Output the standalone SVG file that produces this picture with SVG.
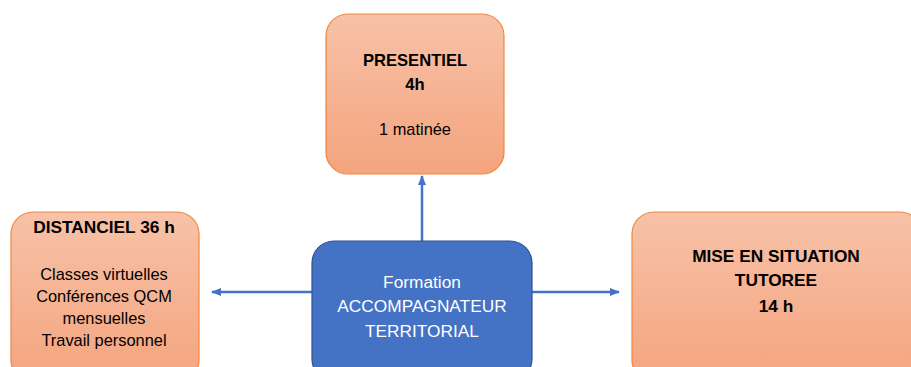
<svg xmlns="http://www.w3.org/2000/svg" width="911" height="367" viewBox="0 0 911 367">
<defs>
<linearGradient id="og" x1="0" y1="0" x2="0" y2="1">
<stop offset="0" stop-color="#F7C2A8"/>
<stop offset="1" stop-color="#F4A47E"/>
</linearGradient>
<marker id="ah" viewBox="0 0 10 10" refX="9" refY="5" markerWidth="10" markerHeight="10" markerUnits="userSpaceOnUse" orient="auto">
<path d="M0,1 L10,5 L0,9 z" fill="#4472C4"/>
</marker>
<style>
.ob{fill:url(#og);stroke:#F0853E;stroke-width:1.2}
.bb{fill:#4472C4;stroke:#2F528F;stroke-width:1.2}
.t{font-family:"Liberation Sans",Arial,sans-serif;text-anchor:middle;fill:#000}
.b{font-weight:bold;font-size:17.3px}
.p{font-weight:bold;font-size:16.6px}
.r{font-size:16.4px}
.w{fill:#fff;font-size:17.3px}
.c{stroke:#4472C4;stroke-width:2.5;fill:none;marker-end:url(#ah)}
</style>
</defs>
<rect width="911" height="367" fill="#fff"/>
<g id="connectors">
<line class="c" x1="422" y1="241" x2="422" y2="176"/>
<line class="c" x1="312" y1="292" x2="212" y2="292"/>
<line class="c" x1="532" y1="292" x2="619" y2="292"/>
</g>
<g id="presentiel">
<rect class="ob" x="326" y="14" width="178" height="160" rx="22"/>
<text class="t p" x="415" y="66">PRESENTIEL</text>
<text class="t p" x="415" y="90">4h</text>
<text class="t r" x="415" y="135">1 matinée</text>
</g>
<g id="distanciel">
<rect class="ob" x="11" y="212" width="188" height="170" rx="22"/>
<text class="t b" x="104" y="233">DISTANCIEL 36 h</text>
<text class="t r" x="104" y="280">Classes virtuelles</text>
<text class="t r" x="104" y="302">Conférences QCM</text>
<text class="t r" x="104" y="324">mensuelles</text>
<text class="t r" x="104" y="346">Travail personnel</text>
</g>
<g id="formation">
<rect class="bb" x="312" y="241" width="220" height="140" rx="22"/>
<text class="t w" x="422" y="288">Formation</text>
<text class="t w" x="422" y="312">ACCOMPAGNATEUR</text>
<text class="t w" x="422" y="337">TERRITORIAL</text>
</g>
<g id="mise-en-situation">
<rect class="ob" x="632" y="212" width="290" height="170" rx="22"/>
<text class="t b" x="776" y="262">MISE EN SITUATION</text>
<text class="t b" x="776" y="286">TUTOREE</text>
<text class="t b" x="776" y="312">14 h</text>
</g>
</svg>
